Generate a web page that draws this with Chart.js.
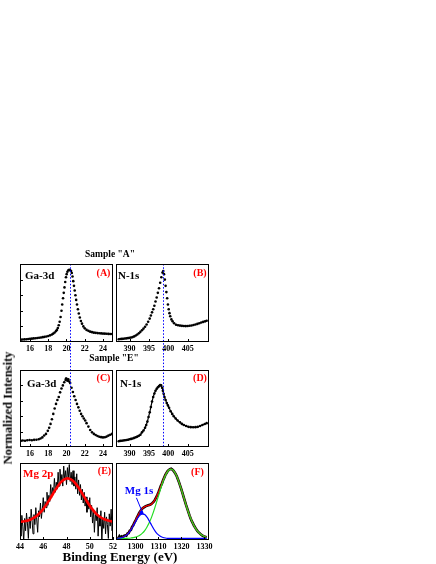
<!DOCTYPE html>
<html><head><meta charset="utf-8">
<script src="https://cdn.jsdelivr.net/npm/chart.js@4.4.0/dist/chart.umd.min.js"></script>
<style>
html,body{margin:0;padding:0;background:#fff;}
#wrap{position:relative;width:436px;height:564px;overflow:hidden;background:#fff;font-family:"Liberation Serif","Times New Roman",serif;font-weight:bold;}
canvas{position:absolute;}
.t{position:absolute;white-space:nowrap;line-height:1;transform:translate(-50%,-50%);}
.l{position:absolute;white-space:nowrap;line-height:1;transform:translate(0,-50%);}
</style></head><body><div id="wrap">
<canvas id="cA"></canvas><canvas id="cB"></canvas><canvas id="cC"></canvas>
<canvas id="cD"></canvas><canvas id="cE"></canvas><canvas id="cF"></canvas>
<div class="t" style="left:110px;top:255px;font-size:9.5px;">Sample "A"</div>
<div class="t" style="left:114px;top:359px;font-size:9.5px;">Sample "E"</div>
<div class="l" style="left:25px;top:275px;font-size:11px;">Ga-3d</div>
<div class="t" style="left:103.5px;top:272.5px;font-size:10px;color:#ff0000;">(A)</div>
<div class="l" style="left:118px;top:275px;font-size:11px;">N-1s</div>
<div class="t" style="left:200px;top:272.5px;font-size:10px;color:#ff0000;">(B)</div>
<div class="l" style="left:27px;top:383px;font-size:11px;">Ga-3d</div>
<div class="t" style="left:103.5px;top:378px;font-size:10px;color:#ff0000;">(C)</div>
<div class="l" style="left:120px;top:383px;font-size:11px;">N-1s</div>
<div class="t" style="left:200px;top:378px;font-size:10px;color:#ff0000;">(D)</div>
<div class="l" style="left:23px;top:473px;font-size:11px;color:#ff0000;">Mg 2p</div>
<div class="t" style="left:104.5px;top:471px;font-size:10px;color:#ff0000;">(E)</div>
<div class="t" style="left:197.5px;top:472px;font-size:10px;color:#ff0000;">(F)</div>
<div class="t" style="left:139px;top:490px;font-size:11px;color:#0000ff;">Mg 1s</div>
<div class="t" style="left:8px;top:408px;font-size:12.5px;transform:translate(-50%,-50%) rotate(-90deg);">Normalized Intensity</div>
<div class="t" style="left:120px;top:556px;font-size:13px;">Binding Energy (eV)</div>
</div>
<script>
// ---------- tick labels ----------
const gaTicks = [16, 18, 20, 22, 24];
const nTicks = [390, 395, 400, 405];
const mg2pTicks = [44, 46, 48, 50, 52];
const mg1sTicks = [1300, 1310, 1320, 1330];

// ---------- (A) Ga-3d, sample A ----------
const aX = [15.0,15.2,15.4,15.6,15.8,16.0,16.2,16.4,16.6,16.8,17.0,17.2,17.4,17.6,17.8,18.0,18.2,18.4,18.55,18.7,18.85,18.95,19.05,19.15,19.25,19.35,19.45,19.53,19.62,19.7,19.78,19.86,19.94,20.02,20.1,20.2,20.3,20.4,20.5,20.58,20.66,20.74,20.82,20.9,20.98,21.06,21.15,21.25,21.35,21.46,21.58,21.7,21.85,22.0,22.2,22.4,22.6,22.8,23.0,23.2,23.4,23.6,23.8,24.0,24.2,24.4,24.6,24.8,25.0];
const aY = [.030,.032,.034,.036,.038,.041,.043,.046,.049,.052,.055,.058,.062,.066,.071,.077,.085,.096,.108,.122,.140,.155,.180,.215,.26,.32,.40,.48,.56,.63,.70,.77,.83,.87,.90,.92,.925,.92,.91,.885,.84,.78,.72,.66,.60,.54,.48,.42,.365,.315,.27,.235,.20,.175,.155,.143,.133,.126,.12,.117,.114,.112,.11,.108,.107,.106,.104,.103,.102];

// ---------- (B) N-1s, sample A ----------
const bX = [387.2,387.6,388.0,388.4,388.8,389.2,389.6,390.0,390.4,390.8,391.2,391.6,392.0,392.4,392.8,393.2,393.6,394.0,394.4,394.8,395.2,395.5,395.8,396.1,396.4,396.7,397.0,397.3,397.6,397.9,398.2,398.5,398.7,398.9,399.1,399.3,399.5,399.7,399.9,400.1,400.3,400.5,400.8,401.1,401.5,402.0,402.5,403.0,403.5,404.0,404.5,405.0,405.5,406.0,406.5,407.0,407.5,408.0,408.5,409.0,409.5,409.9];
const bY = [.036,.038,.040,.042,.045,.047,.050,.053,.057,.063,.072,.083,.097,.112,.13,.15,.172,.195,.225,.26,.30,.34,.38,.42,.465,.52,.57,.63,.69,.76,.83,.89,.91,.87,.80,.72,.64,.56,.48,.42,.37,.33,.29,.265,.24,.222,.214,.21,.207,.205,.204,.206,.208,.212,.218,.224,.232,.24,.25,.258,.265,.272];

// ---------- (C) Ga-3d, sample E ----------
const cX = [15.0,15.2,15.45,15.7,15.95,16.2,16.45,16.7,16.95,17.15,17.35,17.55,17.75,17.95,18.1,18.25,18.4,18.55,18.7,18.85,19.0,19.15,19.3,19.45,19.6,19.75,19.9,19.95,20.0,20.1,20.15,20.2,20.3,20.4,20.55,20.7,20.85,21.0,21.15,21.3,21.45,21.6,21.75,21.9,22.05,22.2,22.4,22.6,22.8,23.0,23.2,23.4,23.6,23.8,24.0,24.2,24.4,24.6,24.8,25.0];
const cY = [.08,.085,.082,.088,.09,.087,.093,.095,.10,.11,.125,.15,.17,.21,.25,.30,.36,.43,.50,.56,.61,.65,.71,.76,.80,.84,.87,.89,.885,.86,.87,.88,.85,.83,.77,.715,.66,.61,.56,.515,.47,.43,.40,.37,.345,.31,.265,.22,.19,.17,.155,.143,.133,.128,.125,.127,.135,.148,.16,.17];

// ---------- (D) N-1s, sample E ----------
const dX = [387.2,387.6,388.0,388.4,388.8,389.2,389.6,390.0,390.4,390.8,391.2,391.6,392.0,392.4,392.8,393.2,393.6,394.0,394.3,394.6,394.9,395.2,395.5,395.8,396.1,396.4,396.7,397.0,397.3,397.6,397.9,398.15,398.4,398.6,398.8,399.0,399.3,399.6,399.9,400.2,400.6,401.0,401.4,401.9,402.4,403.0,403.5,404.0,404.6,405.2,405.8,406.4,407.0,407.6,408.2,408.8,409.4,409.9];
const dY = [.075,.08,.082,.085,.088,.09,.095,.10,.105,.11,.118,.126,.135,.146,.16,.19,.215,.25,.285,.33,.39,.45,.52,.59,.65,.695,.73,.755,.775,.79,.805,.80,.77,.73,.69,.65,.61,.57,.54,.51,.465,.43,.40,.37,.345,.32,.30,.285,.272,.262,.258,.256,.258,.262,.272,.285,.298,.31];

// ---------- (E) Mg 2p : data and fit ----------
const eX = [44.00,44.08,44.16,44.24,44.32,44.40,44.48,44.56,44.64,44.72,44.80,44.88,44.96,45.04,45.12,45.20,45.28,45.36,45.44,45.52,45.60,45.68,45.76,45.84,45.92,46.00,46.08,46.16,46.24,46.32,46.40,46.48,46.56,46.64,46.72,46.80,46.88,46.96,47.04,47.12,47.20,47.28,47.36,47.44,47.52,47.60,47.68,47.76,47.84,47.92,48.00,48.08,48.16,48.24,48.32,48.40,48.48,48.56,48.64,48.72,48.80,48.88,48.96,49.04,49.12,49.20,49.28,49.36,49.44,49.52,49.60,49.68,49.76,49.84,49.92,50.00,50.08,50.16,50.24,50.32,50.40,50.48,50.56,50.64,50.72,50.80,50.88,50.96,51.04,51.12,51.20,51.28,51.36,51.44,51.52,51.60,51.68,51.76,51.84,51.92,52.00];
const eY = [.20,.05,.32,.18,-.02,.28,.12,.35,.22,.02,.30,.15,.40,.25,.08,.33,.20,.42,.26,.10,.38,.30,.48,.28,.40,.55,.36,.50,.42,.62,.45,.58,.50,.72,.55,.68,.60,.80,.62,.75,.66,.88,.70,.92,.74,.85,.70,.96,.78,.90,.72,.94,.80,.98,.76,.88,.72,.90,.70,.82,.66,.86,.60,.78,.58,.72,.52,.66,.48,.62,.44,.56,.36,.52,.40,.55,.30,.45,.22,.40,.10,.35,.25,.42,.05,.30,.18,.38,-.02,.28,.15,.36,.08,.30,.20,.02,.34,.18,.40,.12,.25];
const eFitX = [44.0,44.25,44.5,44.75,45.0,45.25,45.5,45.75,46.0,46.25,46.5,46.75,47.0,47.25,47.5,47.75,48.0,48.25,48.5,48.75,49.0,49.25,49.5,49.75,50.0,50.25,50.5,50.75,51.0,51.25,51.5,51.75,52.0];
const eFitY = [.236,.240,.247,.257,.272,.293,.322,.358,.403,.456,.515,.578,.641,.699,.747,.781,.798,.797,.776,.738,.688,.629,.566,.503,.445,.394,.350,.315,.289,.269,.255,.246,.239];

// ---------- (F) Mg 1s region : data, envelope, components ----------
const fX = [1292.0,1292.5,1293.0,1293.5,1294.0,1294.5,1295.0,1295.5,1296.0,1296.5,1297.0,1297.5,1298.0,1298.5,1299.0,1299.5,1300.0,1300.5,1301.0,1301.5,1302.0,1302.5,1303.0,1303.5,1304.0,1304.5,1305.0,1305.5,1306.0,1306.5,1307.0,1307.5,1308.0,1308.5,1309.0,1309.5,1310.0,1310.5,1311.0,1311.5,1312.0,1312.5,1313.0,1313.5,1314.0,1314.5,1315.0,1315.5,1316.0,1316.5,1317.0,1317.5,1318.0,1318.5,1319.0,1319.5,1320.0,1320.5,1321.0,1321.5,1322.0,1322.5,1323.0,1323.5,1324.0,1324.5,1325.0,1325.5,1326.0,1326.5,1327.0,1327.5,1328.0,1328.5,1329.0,1329.5,1330.0,1330.5,1331.0];
const fY = [.04,.02,.05,.03,.045,.035,.055,.06,.055,.085,.09,.12,.13,.17,.19,.225,.25,.285,.315,.345,.37,.39,.41,.42,.43,.44,.445,.45,.455,.46,.47,.485,.50,.525,.555,.585,.62,.66,.70,.735,.775,.81,.845,.87,.895,.91,.92,.925,.915,.90,.88,.855,.825,.785,.745,.70,.655,.605,.555,.505,.455,.41,.365,.32,.28,.245,.215,.185,.16,.135,.115,.10,.085,.07,.06,.05,.045,.04,.035];
const fFitX = [1292,1293,1294,1295,1296,1297,1298,1299,1300,1301,1302,1303,1304,1305,1306,1307,1308,1309,1310,1311,1312,1313,1314,1315,1316,1317,1318,1319,1320,1321,1322,1323,1324,1325,1326,1327,1328,1329,1330,1331];
const fFitY = [.022,.025,.031,.043,.063,.093,.137,.191,.253,.315,.370,.409,.433,.445,.453,.469,.501,.552,.619,.697,.775,.843,.893,.918,.915,.882,.824,.745,.652,.554,.455,.364,.282,.214,.158,.115,.084,.061,.046,.036];
const fMgY = [.022,.025,.031,.042,.061,.090,.131,.181,.236,.287,.325,.340,.330,.296,.247,.192,.140,.097,.066,.045,.033,.026,.022,.021,.020,.020,.020,.020,.020,.020,.020,.020,.020,.020,.020,.020,.020,.020,.020,.020];
const fNY = [.020,.020,.020,.021,.022,.023,.026,.030,.037,.048,.065,.089,.123,.169,.226,.297,.381,.475,.573,.672,.762,.837,.891,.917,.915,.882,.824,.745,.652,.554,.455,.364,.282,.214,.158,.115,.084,.061,.046,.036];

// ---------- helpers ----------
const pts = (xs, ys) => xs.map((x, i) => ({x, y: ys[i]}));
const FONT = '"Liberation Serif","Times New Roman",serif';
const PAD = 14;

const framePlugin = {
  id: 'frame',
  afterDraw(chart, args, o) {
    const {ctx, chartArea: a} = chart;
    const xs = chart.scales.x, ys = chart.scales.y;
    ctx.save();
    if (o.vline != null) {
      const px = Math.round(xs.getPixelForValue(o.vline)) + 0.5;
      ctx.strokeStyle = '#0000ff'; ctx.lineWidth = 1; ctx.setLineDash([1.5, 1.8]);
      ctx.beginPath();
      const y0 = o.ext === 'up' ? 0 : a.top;
      const y1 = o.ext === 'up' ? a.bottom : chart.height;
      ctx.moveTo(px, y0); ctx.lineTo(px, y1); ctx.stroke();
      ctx.setLineDash([]);
    }
    if (o.pointer) {
      const p = o.pointer;
      const px = xs.getPixelForValue(p.x), py = ys.getPixelForValue(p.y);
      ctx.strokeStyle = '#0000ff'; ctx.fillStyle = '#0000ff'; ctx.lineWidth = 1;
      ctx.beginPath(); ctx.moveTo(px - 6, py - 16); ctx.lineTo(px + 1, py + 1); ctx.stroke();
      ctx.beginPath(); ctx.arc(px - 1, py - 1, 2, 0, Math.PI * 2); ctx.fill();
    }
    ctx.strokeStyle = '#000'; ctx.lineWidth = 1;
    ctx.strokeRect(a.left + 0.5, a.top + 0.5, a.right - a.left - 1, a.bottom - a.top - 1);
    ctx.beginPath();
    xs.ticks.forEach(t => {
      const p = Math.round(xs.getPixelForValue(t.value)) + 0.5;
      ctx.moveTo(p, a.bottom); ctx.lineTo(p, a.bottom - 3);
    });
    (o.yticks || []).forEach(v => {
      const p = Math.round(ys.getPixelForValue(v)) + 0.5;
      ctx.moveTo(a.left, p); ctx.lineTo(a.left + 3, p);
    });
    ctx.stroke();
    ctx.restore();
  }
};

function panel(id, box, xr, ticks, datasets, fo) {
  const c = document.getElementById(id);
  c.width = box.w + 2 * PAD; c.height = box.h + 2 * PAD;
  c.style.left = (box.x - PAD) + 'px'; c.style.top = (box.y - PAD) + 'px';
  c.style.width = c.width + 'px'; c.style.height = c.height + 'px';
  new Chart(c, {
    type: 'scatter',
    data: {datasets},
    options: {
      responsive: false, animation: false, devicePixelRatio: 1,
      layout: {padding: {left: PAD, right: PAD, top: PAD, bottom: 0}, autoPadding: false},
      plugins: {legend: {display: false}, tooltip: {enabled: false}, frame: fo || {}},
      scales: {
        x: {
          type: 'linear', min: xr[0], max: xr[1],
          afterBuildTicks: s => { s.ticks = ticks.map(v => ({value: v})); },
          afterFit: s => { s.height = PAD; },
          grid: {display: false, drawTicks: false}, border: {display: false},
          ticks: {padding: 2, autoSkip: false, maxRotation: 0, color: '#000',
                  font: {family: FONT, size: 8, weight: 'bold'}, callback: v => String(v)}
        },
        y: {type: 'linear', min: 0, max: 1, display: false}
      }
    },
    plugins: [framePlugin]
  });
}

const dots = (xs, ys, r) => ({data: pts(xs, ys), showLine: false, pointRadius: r, pointBackgroundColor: '#000', pointBorderWidth: 0});

panel('cA', {x: 20, y: 264, w: 93, h: 78}, [14.9, 25.1], gaTicks, [dots(aX, aY, 1.3)], {vline: 20.4, ext: 'down', yticks: [0.2, 0.4, 0.6, 0.8]});
panel('cB', {x: 116, y: 264, w: 93, h: 78}, [386.5, 410.5], nTicks, [dots(bX, bY, 1.3)], {vline: 398.5, ext: 'down'});
panel('cC', {x: 20, y: 370, w: 93, h: 77}, [14.9, 25.1], gaTicks, [dots(cX, cY, 1.3)], {vline: 20.4, ext: 'up', yticks: [0.2, 0.4, 0.6, 0.8]});
panel('cD', {x: 116, y: 370, w: 93, h: 77}, [386.5, 410.5], nTicks,
  [Object.assign(dots(dX, dY, 1.3), {showLine: true, borderColor: '#000', borderWidth: 1.2})], {vline: 398.5, ext: 'up'});
panel('cE', {x: 20, y: 463, w: 93, h: 77}, [44, 52], mg2pTicks, [
  {data: pts(eFitX, eFitY), showLine: true, borderColor: '#ff0000', borderWidth: 2.6, pointRadius: 0, tension: 0.3, order: 0},
  {data: pts(eX, eY), showLine: true, borderColor: '#000', borderWidth: 1, pointRadius: 0, order: 1}
], {});
const mgPeak = fMgY.indexOf(Math.max(...fMgY));
panel('cF', {x: 116, y: 463, w: 93, h: 77}, [1291.5, 1332], mg1sTicks, [
  {data: pts(fFitX, fMgY), showLine: true, borderColor: '#0000ff', borderWidth: 1.2, pointRadius: 0, tension: 0.3, order: 0},
  {data: pts(fFitX, fNY), showLine: true, borderColor: '#22dd22', borderWidth: 1.2, pointRadius: 0, tension: 0.3, order: 1},
  {data: pts(fFitX, fFitY), showLine: true, borderColor: '#ee0000', borderWidth: 1.3, pointRadius: 0, tension: 0.3, order: 2},
  {data: pts(fX, fY), showLine: true, borderColor: '#000', borderWidth: 2.6, pointRadius: 0, order: 3}
], {pointer: {x: fFitX[mgPeak], y: fMgY[mgPeak]}});
</script>
</body></html>
